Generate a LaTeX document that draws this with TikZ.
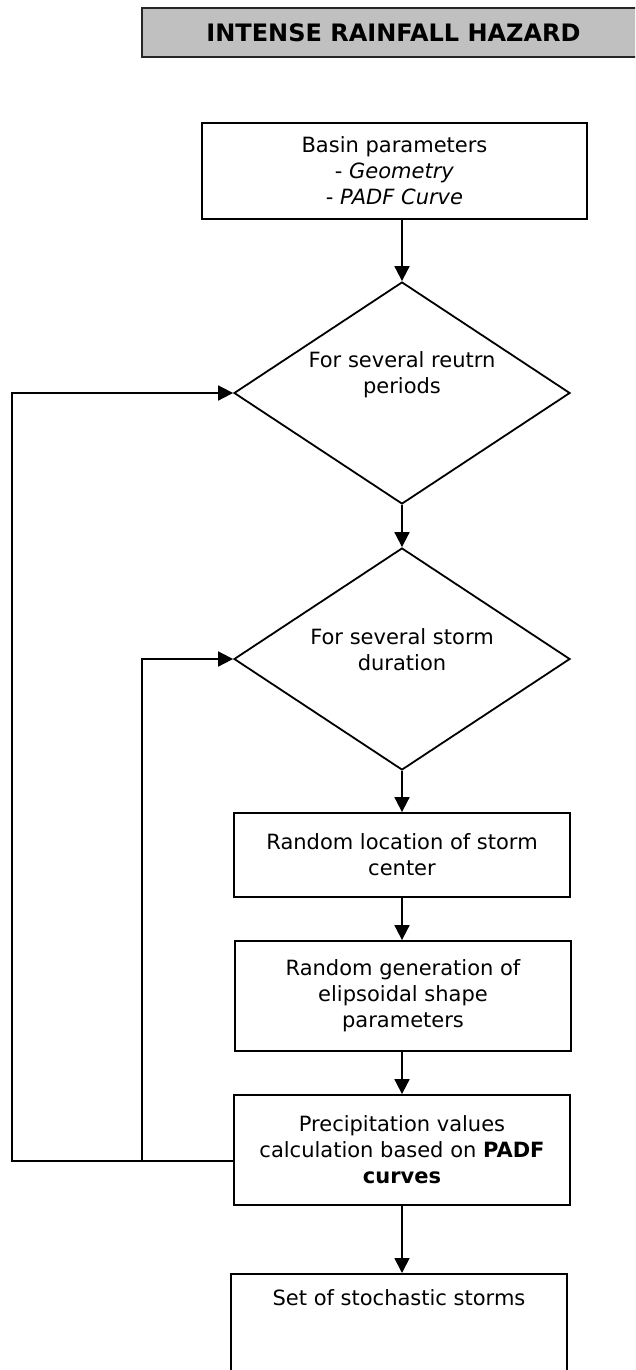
\documentclass[tikz,border=0pt]{standalone}
\usepackage{fontspec}
\setmainfont{DejaVu Sans}
\usetikzlibrary{arrows.meta, shapes.geometric}
\definecolor{titlegray}{HTML}{C0C0C0}

\begin{document}
\begin{tikzpicture}[x=1pt, y=-1pt,
    box/.style={draw, line width=1.8pt, minimum width=336pt, align=center,
                inner sep=0pt, font=\fontsize{21}{26}\selectfont},
    decision/.style={box, diamond, shape aspect=1.5, minimum width=336pt,
                     minimum height=222pt},
    arr/.style={-{Triangle[length=15pt, width=15pt]}, line width=1.8pt}
  ]
    \useasboundingbox (0,0) rectangle (635,1370);
    \clip (0,0) rectangle (635,1370);

    \node[draw=black!85, line width=2.2pt, fill=titlegray, minimum width=503pt,
          minimum height=49pt, font=\fontsize{24}{28}\selectfont\bfseries]
          (title) at (393.5,32.5) {INTENSE RAINFALL HAZARD};

    \node[box, minimum width=385pt, minimum height=96pt] (basin) at (394.5,171)
      {Basin parameters\\- \textit{Geometry}\\- \textit{PADF Curve}};
    \node[decision] (periods)  at (402,393) {For several reutrn\\periods\\[14pt]};
    \node[decision] (duration) at (402,659) {For several storm\\duration\\[-8pt]};
    \node[box, minimum height=84pt]  (center) at (402,855)
      {Random location of storm\\center};
    \node[box, minimum height=110pt] (shape)  at (403,996)
      {Random generation of\\elipsoidal shape\\parameters};
    \node[box, minimum height=110pt] (precip) at (402,1150)
      {Precipitation values\\calculation based on \textbf{PADF}\\\textbf{curves}};
    \node[box, anchor=north, text height=18pt, text depth=110pt, inner ysep=14pt]
      (storms) at (399,1273) {Set of stochastic storms};

    \coordinate (outer) at (12,1161);
    \coordinate (inner) at (142,1161);

    \draw[arr] (basin.south -| periods.north) -- (periods.north);
    \draw[arr] (periods.south) -- (duration.north);
    \draw[arr] (duration.south) -- (center.north);
    \draw[arr] (center.south) -- (shape.north -| center.south);
    \draw[arr] (shape.south -| center.south) -- (precip.north);
    \draw[arr] (precip.south) -- (storms.north -| precip.south);
    \draw[arr] (precip.west |- outer) -- (outer) |- (periods.west);
    \draw[arr] (inner) |- (duration.west);
  \end{tikzpicture}
\end{document}
